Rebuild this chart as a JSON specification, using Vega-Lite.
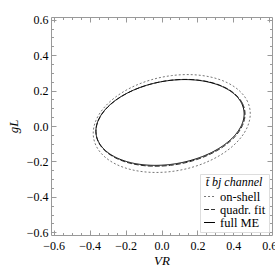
{
  "$schema": "https://vega.github.io/schema/vega-lite/v6.json",
  "autosize": "none",
  "width": 221,
  "height": 218,
  "padding": {"left": 51, "top": 17, "right": 3, "bottom": 40},
  "background": "white",
  "config": {
    "view": {"stroke": null},
    "font": "Liberation Serif"
  },
  "data": {"values": [
    {"s":"on-shell","i":0,"x":0.494,"y":0.0692},
    {"s":"on-shell","i":1,"x":0.4791,"y":0.1373},
    {"s":"on-shell","i":2,"x":0.4354,"y":0.197},
    {"s":"on-shell","i":3,"x":0.366,"y":0.2443},
    {"s":"on-shell","i":4,"x":0.2755,"y":0.2758},
    {"s":"on-shell","i":5,"x":0.1701,"y":0.2896},
    {"s":"on-shell","i":6,"x":0.057,"y":0.2845},
    {"s":"on-shell","i":7,"x":-0.0561,"y":0.261},
    {"s":"on-shell","i":8,"x":-0.1615,"y":0.2206},
    {"s":"on-shell","i":9,"x":-0.252,"y":0.1662},
    {"s":"on-shell","i":10,"x":-0.3214,"y":0.1014},
    {"s":"on-shell","i":11,"x":-0.3651,"y":0.0307},
    {"s":"on-shell","i":12,"x":-0.38,"y":-0.0412},
    {"s":"on-shell","i":13,"x":-0.3651,"y":-0.1093},
    {"s":"on-shell","i":14,"x":-0.3214,"y":-0.169},
    {"s":"on-shell","i":15,"x":-0.252,"y":-0.2163},
    {"s":"on-shell","i":16,"x":-0.1615,"y":-0.2478},
    {"s":"on-shell","i":17,"x":-0.0561,"y":-0.2616},
    {"s":"on-shell","i":18,"x":0.057,"y":-0.2565},
    {"s":"on-shell","i":19,"x":0.1701,"y":-0.233},
    {"s":"on-shell","i":20,"x":0.2755,"y":-0.1926},
    {"s":"on-shell","i":21,"x":0.366,"y":-0.1382},
    {"s":"on-shell","i":22,"x":0.4354,"y":-0.0734},
    {"s":"on-shell","i":23,"x":0.4791,"y":-0.0027},
    {"s":"quadr. fit","i":0,"x":0.465,"y":0.067},
    {"s":"quadr. fit","i":1,"x":0.4508,"y":0.1275},
    {"s":"quadr. fit","i":2,"x":0.4094,"y":0.1805},
    {"s":"quadr. fit","i":3,"x":0.3434,"y":0.2224},
    {"s":"quadr. fit","i":4,"x":0.2575,"y":0.2504},
    {"s":"quadr. fit","i":5,"x":0.1574,"y":0.2626},
    {"s":"quadr. fit","i":6,"x":0.05,"y":0.2581},
    {"s":"quadr. fit","i":7,"x":-0.0574,"y":0.2372},
    {"s":"quadr. fit","i":8,"x":-0.1575,"y":0.2014},
    {"s":"quadr. fit","i":9,"x":-0.2434,"y":0.1531},
    {"s":"quadr. fit","i":10,"x":-0.3094,"y":0.0956},
    {"s":"quadr. fit","i":11,"x":-0.3508,"y":0.0328},
    {"s":"quadr. fit","i":12,"x":-0.365,"y":-0.031},
    {"s":"quadr. fit","i":13,"x":-0.3508,"y":-0.0915},
    {"s":"quadr. fit","i":14,"x":-0.3094,"y":-0.1445},
    {"s":"quadr. fit","i":15,"x":-0.2434,"y":-0.1864},
    {"s":"quadr. fit","i":16,"x":-0.1575,"y":-0.2144},
    {"s":"quadr. fit","i":17,"x":-0.0574,"y":-0.2266},
    {"s":"quadr. fit","i":18,"x":0.05,"y":-0.2221},
    {"s":"quadr. fit","i":19,"x":0.1574,"y":-0.2012},
    {"s":"quadr. fit","i":20,"x":0.2575,"y":-0.1654},
    {"s":"quadr. fit","i":21,"x":0.3434,"y":-0.1171},
    {"s":"quadr. fit","i":22,"x":0.4094,"y":-0.0596},
    {"s":"quadr. fit","i":23,"x":0.4508,"y":0.0032},
    {"s":"full ME","i":0,"x":0.46,"y":0.0684},
    {"s":"full ME","i":1,"x":0.4459,"y":0.1281},
    {"s":"full ME","i":2,"x":0.4047,"y":0.1805},
    {"s":"full ME","i":3,"x":0.3392,"y":0.2219},
    {"s":"full ME","i":4,"x":0.2538,"y":0.2496},
    {"s":"full ME","i":5,"x":0.1543,"y":0.2616},
    {"s":"full ME","i":6,"x":0.0475,"y":0.2572},
    {"s":"full ME","i":7,"x":-0.0593,"y":0.2365},
    {"s":"full ME","i":8,"x":-0.1588,"y":0.2012},
    {"s":"full ME","i":9,"x":-0.2442,"y":0.1535},
    {"s":"full ME","i":10,"x":-0.3097,"y":0.0967},
    {"s":"full ME","i":11,"x":-0.3509,"y":0.0346},
    {"s":"full ME","i":12,"x":-0.365,"y":-0.0284},
    {"s":"full ME","i":13,"x":-0.3509,"y":-0.0881},
    {"s":"full ME","i":14,"x":-0.3097,"y":-0.1405},
    {"s":"full ME","i":15,"x":-0.2442,"y":-0.1819},
    {"s":"full ME","i":16,"x":-0.1588,"y":-0.2096},
    {"s":"full ME","i":17,"x":-0.0593,"y":-0.2216},
    {"s":"full ME","i":18,"x":0.0475,"y":-0.2172},
    {"s":"full ME","i":19,"x":0.1543,"y":-0.1965},
    {"s":"full ME","i":20,"x":0.2538,"y":-0.1612},
    {"s":"full ME","i":21,"x":0.3392,"y":-0.1135},
    {"s":"full ME","i":22,"x":0.4047,"y":-0.0567},
    {"s":"full ME","i":23,"x":0.4459,"y":0.0054}
  ]},
  "resolve": {"axis": {"x": "independent", "y": "independent"}},
  "layer": [
    {
      "mark": {"type": "line", "interpolate": "cardinal-closed", "strokeWidth": 1},
      "encoding": {
        "x": {"field": "x", "type": "quantitative",
          "scale": {"domain": [-0.615, 0.615], "nice": false, "zero": false},
          "axis": {"orient": "bottom", "title": "VR", "titleFont": "Liberation Serif", "titleFontStyle": "italic", "titleFontWeight": "normal", "titleFontSize": 13, "titlePadding": 3,
            "values": [-0.6,-0.55,-0.5,-0.45,-0.4,-0.35,-0.3,-0.25,-0.2,-0.15,-0.1,-0.05,0,0.05,0.1,0.15,0.2,0.25,0.3,0.35,0.4,0.45,0.5,0.55,0.6],
            "labelExpr": "abs(round(datum.value*20)) % 4 == 0 ? format(datum.value, '.1f') : ''",
            "labelFont": "Liberation Serif", "labelFontSize": 12, "labelColor": "black", "labelPadding": 10, "labelBound": false, "labelFlush": false,
            "domainColor": "#999999", "tickColor": "#999999", "grid": false,
            "tickSize": {"condition": {"test": "abs(round(datum.value*20)) % 4 == 0", "value": -5}, "value": -2.5}}},
        "y": {"field": "y", "type": "quantitative",
          "scale": {"domain": [-0.615, 0.615], "nice": false, "zero": false},
          "axis": {"orient": "left", "title": "gL", "titleFont": "Liberation Serif", "titleFontStyle": "italic", "titleFontWeight": "normal", "titleFontSize": 13, "titlePadding": 6,
            "values": [-0.6,-0.55,-0.5,-0.45,-0.4,-0.35,-0.3,-0.25,-0.2,-0.15,-0.1,-0.05,0,0.05,0.1,0.15,0.2,0.25,0.3,0.35,0.4,0.45,0.5,0.55,0.6],
            "labelExpr": "abs(round(datum.value*20)) % 4 == 0 ? format(datum.value, '.1f') : ''",
            "labelFont": "Liberation Serif", "labelFontSize": 12, "labelColor": "black", "labelPadding": 8, "labelFlush": false,
            "domainColor": "#999999", "tickColor": "#999999", "grid": false,
            "tickSize": {"condition": {"test": "abs(round(datum.value*20)) % 4 == 0", "value": -5}, "value": -2.5}}},
        "color": {"field": "s", "type": "nominal",
          "scale": {"domain": ["on-shell", "quadr. fit", "full ME"], "range": ["#777777", "#333333", "#000000"]},
          "legend": {"title": "t̄ bj channel", "orient": "bottom-right", "offset": 3, "symbolType": "stroke", "symbolSize": 120, "symbolStrokeWidth": 1.2,
            "titleFont": "Liberation Serif", "titleFontStyle": "italic", "titleFontWeight": "normal", "titleFontSize": 12, "titlePadding": 1, "titleAnchor": "middle",
            "labelFont": "Liberation Serif", "labelFontSize": 12.5, "labelColor": "black", "rowPadding": 0,
            "padding": 3, "strokeColor": "#dddddd", "fillColor": "white"}},
        "strokeDash": {"field": "s", "type": "nominal",
          "scale": {"domain": ["on-shell", "quadr. fit", "full ME"], "range": [[2, 2], [5, 2], [1, 0]]},
          "legend": {"title": "t̄ bj channel"}},
        "order": {"field": "i", "type": "quantitative"}
      }
    },
    {
      "mark": {"type": "line", "interpolate": "cardinal-closed", "strokeOpacity": 0},
      "encoding": {
        "x": {"field": "x", "type": "quantitative",
          "axis": {"orient": "top", "title": null, "labels": false,
            "values": [-0.6,-0.55,-0.5,-0.45,-0.4,-0.35,-0.3,-0.25,-0.2,-0.15,-0.1,-0.05,0,0.05,0.1,0.15,0.2,0.25,0.3,0.35,0.4,0.45,0.5,0.55,0.6],
            "domainColor": "#999999", "tickColor": "#999999", "grid": false,
            "tickSize": {"condition": {"test": "abs(round(datum.value*20)) % 4 == 0", "value": -5}, "value": -2.5}}},
        "y": {"field": "y", "type": "quantitative",
          "axis": {"orient": "right", "title": null, "labels": false,
            "values": [-0.6,-0.55,-0.5,-0.45,-0.4,-0.35,-0.3,-0.25,-0.2,-0.15,-0.1,-0.05,0,0.05,0.1,0.15,0.2,0.25,0.3,0.35,0.4,0.45,0.5,0.55,0.6],
            "domainColor": "#999999", "tickColor": "#999999", "grid": false,
            "tickSize": {"condition": {"test": "abs(round(datum.value*20)) % 4 == 0", "value": -5}, "value": -2.5}}},
        "detail": {"field": "s", "type": "nominal"},
        "order": {"field": "i", "type": "quantitative"}
      }
    }
  ]
}
